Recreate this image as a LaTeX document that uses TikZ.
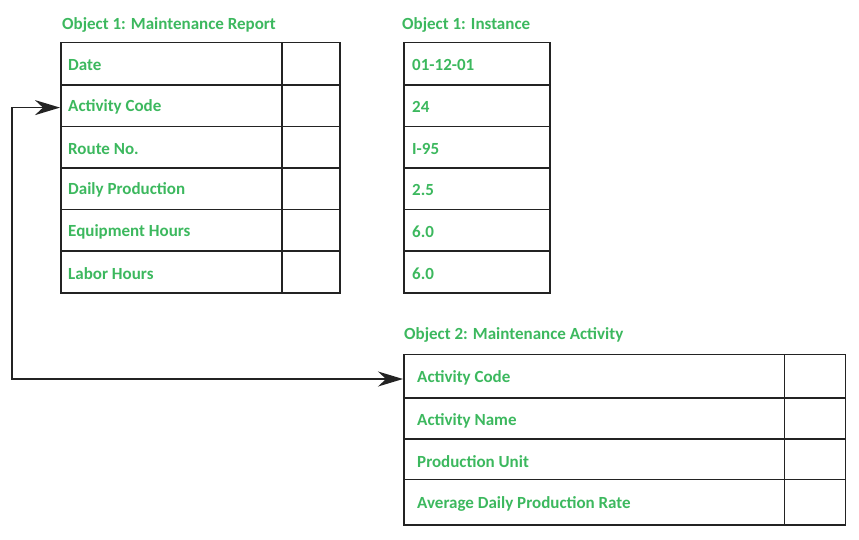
\documentclass[tikz,border=0pt]{standalone}
\usepackage{fontspec}
\setmainfont{Carlito}
\usetikzlibrary{arrows.meta}
\definecolor{txtgreen}{RGB}{60,184,94}
\definecolor{linegray}{RGB}{35,35,35}
\tikzset{
  cell/.style={draw=linegray, line width=1.7pt, rectangle, inner sep=0pt, anchor=north west},
  celltext/.style={anchor=west, inner sep=0pt, text=txtgreen, font=\bfseries\fontsize{17}{20}\selectfont},
  title/.style={anchor=west, inner sep=0pt, text=txtgreen, font=\bfseries\fontsize{17}{20}\selectfont},
  link/.style={draw=linegray, line width=1.7pt, {Stealth[length=25pt,width=15pt,inset=8pt]}-{Stealth[length=25pt,width=15pt,inset=8pt]}}
}
\begin{document}
\begin{tikzpicture}[x=1pt,y=-1pt]
\useasboundingbox (0,0) rectangle (859,539);
% ---- Table 1: Maintenance Report
\node[title] (t1) at (62,25) {Object 1: Maintenance Report};
\foreach \i/\ya/\yb/\lab in {1/41.5/84/Date,2/84/125.5/Activity Code,3/125.5/167/Route No.,4/167/208.5/Daily Production,5/208.5/250/Equipment Hours,6/250/292/Labor Hours}{
  \node[cell, minimum width=221pt, minimum height={(\yb-\ya)*1pt}] (a\i) at (60,\ya) {};
  \node[cell, minimum width=58pt, minimum height={(\yb-\ya)*1pt}] (av\i) at (281,\ya) {};
  \node[celltext] (at\i) at ([xshift=8pt,yshift=-1.5pt]a\i.west) {\lab};
}
% ---- Table 2: Instance
\node[title] (t2) at (402,25) {Object 1: Instance};
\foreach \i/\ya/\yb/\lab in {1/41.5/84/01-12-01,2/84/125.5/24,3/125.5/167/I-95,4/167/208.5/2.5,5/208.5/250/6.0,6/250/292/6.0}{
  \node[cell, minimum width=146pt, minimum height={(\yb-\ya)*1pt}] (b\i) at (403,\ya) {};
  \node[celltext] (bt\i) at ([xshift=9pt,yshift=-1.5pt]b\i.west) {\lab};
}
% ---- Table 3: Maintenance Activity
\node[title] (t3) at (404,335) {Object 2: Maintenance Activity};
\foreach \i/\ya/\yb/\lab in {1/353.5/397/Activity Code,2/397/438/Activity Name,3/438/478.5/Production Unit,4/478.5/524/Average Daily Production Rate}{
  \node[cell, minimum width=380.5pt, minimum height={(\yb-\ya)*1pt}] (c\i) at (403,\ya) {};
  \node[cell, minimum width=61pt, minimum height={(\yb-\ya)*1pt}] (cv\i) at (783.5,\ya) {};
  \node[celltext] (ct\i) at ([xshift=14pt,yshift=-2pt]c\i.west) {\lab};
}
% ---- Connector
\coordinate (corner) at (12,379);
\draw[link] ([yshift=-2pt]a2.west) -- ([yshift=-2pt]a2.west -| corner) -- (corner) -- (corner -| c1.west);
\end{tikzpicture}
\end{document}
